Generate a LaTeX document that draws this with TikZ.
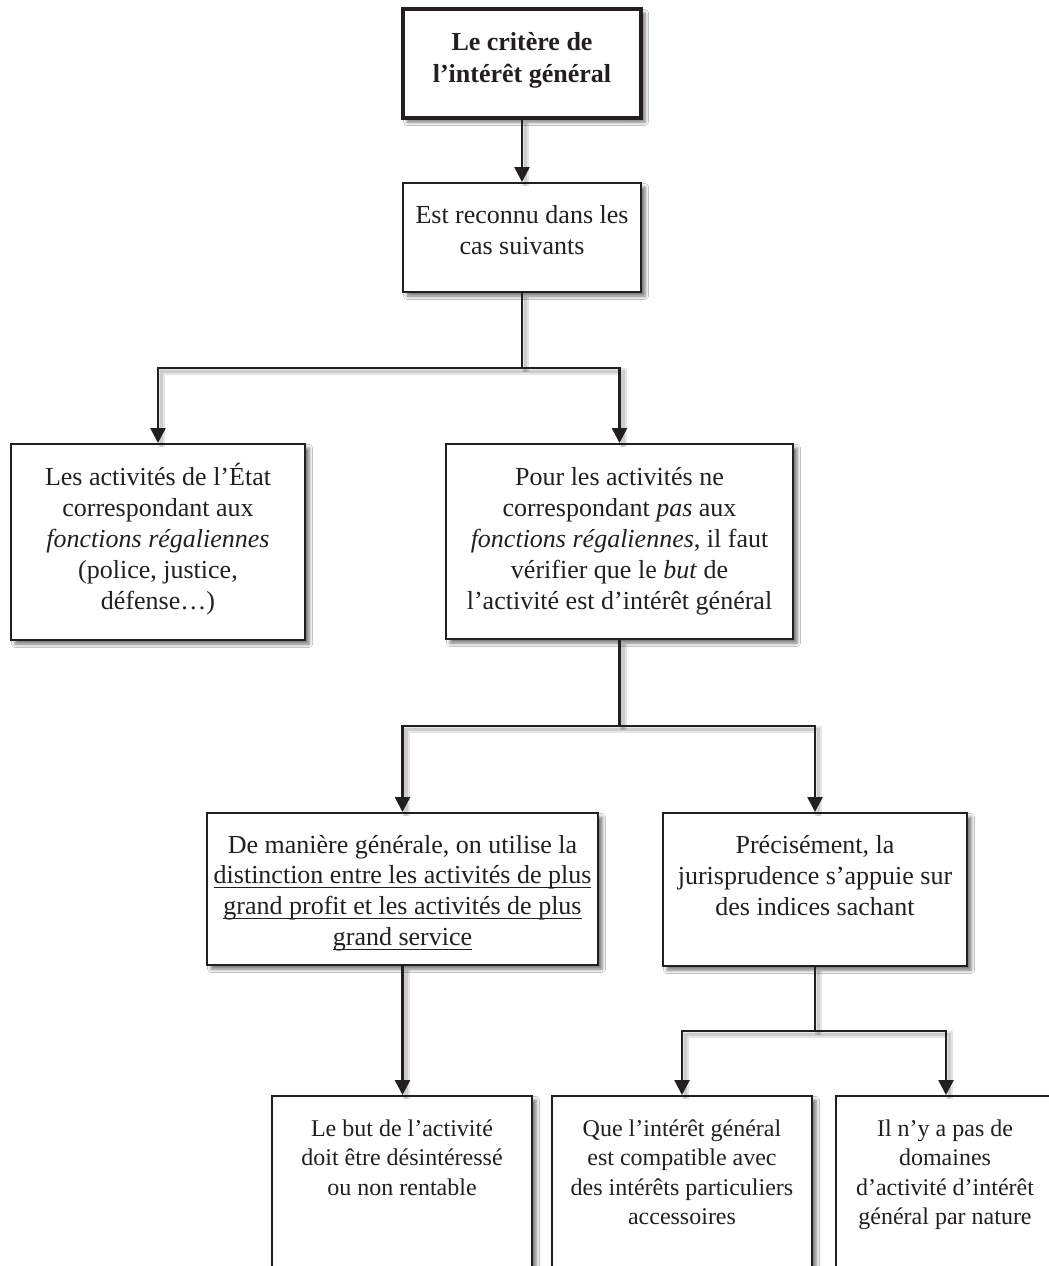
\documentclass[tikz,border=0pt]{standalone}
\usepackage{fontspec}
\setmainfont{Liberation Serif}
\usetikzlibrary{arrows.meta,shadows.blur}
\definecolor{ink}{HTML}{231F20}
\newsavebox\myulbox
\newcommand{\myul}[1]{\sbox\myulbox{#1}\rlap{\rule[-4.5pt]{\wd\myulbox}{1.3pt}}\usebox\myulbox}
\newcommand{\fst}{\rule{0pt}{24pt}}
\newcommand{\sst}{\rule{0pt}{22pt}}
\begin{document}
\begin{tikzpicture}[x=1pt,y=-1pt,
  box/.style={draw=ink, line width=2pt, fill=white, inner sep=0pt,
    blur shadow={shadow xshift=4pt, shadow yshift=-4pt, shadow blur radius=3.5pt, shadow opacity=55}},
  txt/.style={font=\fontsize{26}{31}\selectfont, align=center, inner sep=0pt, anchor=north, text=ink},
  stxt/.style={font=\fontsize{24}{29.5}\selectfont, align=center, inner sep=0pt, anchor=north, text=ink},
  wire/.style={draw=ink, line width=2.6pt},
  wshadow/.style={draw=black, draw opacity=0.1, line width=7pt, preaction={draw=black, draw opacity=0.1, line width=3.5pt}},
  tip/.style={-{Triangle[width=15pt,length=15pt]}}
]
\useasboundingbox (0,0) rectangle (1049,1266);
\fill[white] (0,0) rectangle (1049,1266);
\clip (0,0) rectangle (1049,1266);

% boxes
\node[box, line width=3.5pt, minimum width=238pt, minimum height=109pt] (b1) at (522,63.5) {};
\node[box, minimum width=238pt, minimum height=109pt] (b2) at (522,237.5) {};
\node[box, minimum width=294pt, minimum height=196pt] (b3) at (158,542) {};
\node[box, minimum width=347pt, minimum height=195pt] (b4) at (619.5,541.5) {};
\node[box, minimum width=391pt, minimum height=152pt] (b5) at (402.5,889) {};
\node[box, minimum width=304pt, minimum height=153pt] (b6) at (815,889.5) {};
\node[box, minimum width=260pt, minimum height=204pt] (b7) at (402,1198) {};
\node[box, minimum width=260pt, minimum height=204pt] (b8) at (682,1198) {};
\node[box, minimum width=220pt, minimum height=204pt] (b9) at (946,1198) {};

% texts
\node[txt, font=\fontsize{26}{32}\selectfont\bfseries] (t1) at (522,26) {\fst Le critère de\\l'intérêt général};
\node[txt] (t2) at (522,199) {\fst Est reconnu dans les\\cas suivants};
\node[txt] (t3) at (158,461) {\fst Les activités de l'État\\correspondant aux\\\textit{fonctions régaliennes}\\(police, justice,\\défense…)};
\node[txt] (t4) at (619.5,461) {\fst Pour les activités ne\\correspondant \textit{pas} aux\\\textit{fonctions régaliennes}, il faut\\vérifier que le \textit{but} de\\l'activité est d'intérêt général};
\node[txt, font=\fontsize{26}{30.7}\selectfont] (t5) at (402.5,829) {\fst De manière générale, on utilise la\\\myul{distinction entre les activités de plus}\\\myul{grand profit et les activités de plus}\\\myul{grand service}};
\node[txt] (t6) at (815,829) {\fst Précisément, la\\jurisprudence s'appuie sur\\des indices sachant};
\node[stxt] (t7) at (402,1114) {\sst Le but de l'activité\\doit être désintéressé\\ou non rentable};
\node[stxt] (t8) at (682,1114) {\sst Que l'intérêt général\\est compatible avec\\des intérêts particuliers\\accessoires};
\node[stxt] (t9) at (945,1114) {\sst Il n'y a pas de\\domaines\\d'activité d'intérêt\\général par nature};

% junctions
\coordinate (j1) at (522,368);
\coordinate (j2) at (619.5,726);
\coordinate (j3) at (815,1031);

% connector shadows
\begin{scope}[transform canvas={shift={(3.5pt,-3.5pt)}}]
\draw[wshadow] (b1.south) -- (b2.north);
\draw[wshadow] (b2.south) -- (j1);
\draw[wshadow] (j1) -| (b3.north);
\draw[wshadow] (j1) -| (b4.north);
\draw[wshadow] (b4.south) -- (j2);
\draw[wshadow] (j2) -| (b5.north);
\draw[wshadow] (j2) -| (b6.north);
\draw[wshadow] (b5.south) -- (b5.south |- b7.north);
\draw[wshadow] (b6.south) -- (j3);
\draw[wshadow] (j3) -| (b8.north);
\draw[wshadow] (j3) -| (b9.north);
\end{scope}

% connectors
\draw[wire, tip] (b1.south) -- (b2.north);
\draw[wire] (b2.south) -- (j1);
\draw[wire, tip] (j1) -| (b3.north);
\draw[wire, tip] (j1) -| (b4.north);
\draw[wire] (b4.south) -- (j2);
\draw[wire, tip] (j2) -| (b5.north);
\draw[wire, tip] (j2) -| (b6.north);
\draw[wire, tip] (b5.south) -- (b5.south |- b7.north);
\draw[wire] (b6.south) -- (j3);
\draw[wire, tip] (j3) -| (b8.north);
\draw[wire, tip] (j3) -| (b9.north);
\end{tikzpicture}
\end{document}
